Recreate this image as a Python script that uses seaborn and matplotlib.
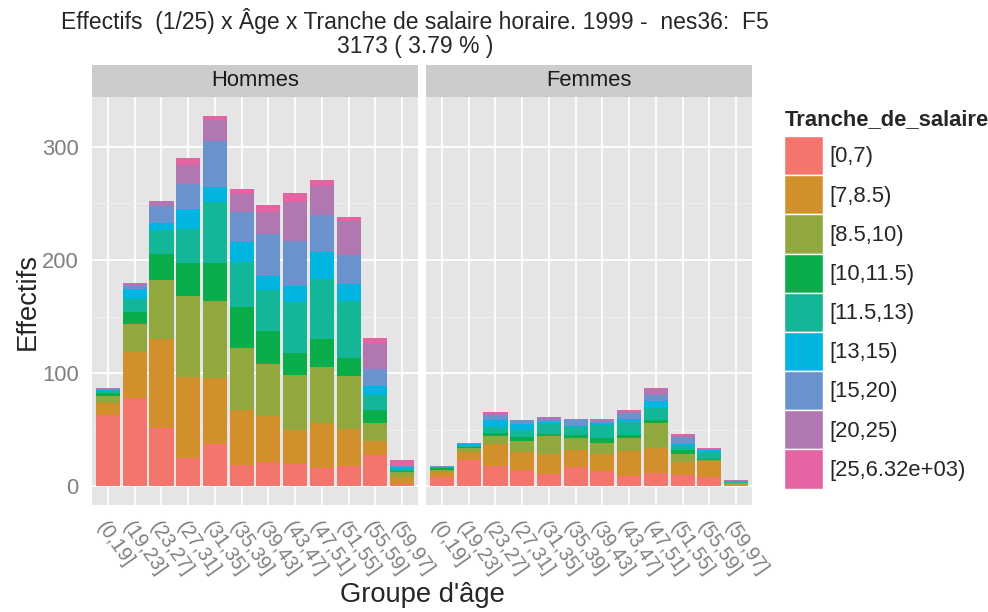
import pandas as pd
import matplotlib
matplotlib.use('Agg')
import matplotlib.pyplot as plt
from matplotlib.ticker import FixedLocator
from matplotlib.patches import Patch
import seaborn as sns

age_groups = ['(0,19]', '(19,23]', '(23,27]', '(27,31]', '(31,35]', '(35,39]',
              '(39,43]', '(43,47]', '(47,51]', '(51,55]', '(55,59]', '(59,97]']
tranches = ['[0,7)', '[7,8.5)', '[8.5,10)', '[10,11.5)', '[11.5,13)',
            '[13,15)', '[15,20)', '[20,25)', '[25,6.32e+03)']
tranche_colors = ['#F3756C', '#D1902C', '#91A83E', '#09AE4A', '#14B698',
                  '#00B5E0', '#6A92CC', '#B077B1', '#E464A3']
panels = ['Hommes', 'Femmes']

# one row per age group, one value per salary band
hommes = [
    [63.4, 10.3, 6.3, 2.6, 1.4, 0.7, 1.7, 0.4, 0.2],
    [78.0, 40.8, 24.2, 10.8, 11.5, 8.6, 3.8, 0.9, 0.7],
    [51.9, 78.1, 52.1, 22.7, 21.2, 6.2, 15.4, 4.4, 0.4],
    [25.0, 71.7, 71.3, 29.2, 29.7, 17.7, 22.7, 16.2, 6.8],
    [37.4, 58.4, 68.1, 33.3, 53.9, 13.3, 40.6, 18.6, 3.8],
    [18.6, 49.2, 54.2, 36.3, 39.7, 18.0, 26.0, 16.5, 3.8],
    [21.5, 41.0, 45.4, 29.1, 36.3, 12.7, 36.5, 20.1, 5.6],
    [19.7, 29.8, 48.9, 19.5, 45.1, 14.1, 39.5, 34.8, 8.0],
    [15.9, 39.8, 50.1, 24.2, 53.0, 24.2, 32.1, 25.7, 5.3],
    [17.7, 32.7, 47.1, 16.3, 49.8, 15.3, 25.1, 30.3, 3.8],
    [27.7, 12.1, 15.9, 12.1, 12.9, 8.0, 15.3, 22.7, 4.2],
    [1.8, 6.2, 4.7, 0.9, 2.0, 1.2, 0.9, 0.9, 4.7],
]
femmes = [
    [8.3, 4.4, 2.0, 1.5, 0.5, 0.7, 0.2, 0.0, 0.0],
    [23.6, 6.8, 3.8, 0.9, 0.6, 1.5, 0.9, 0.2, 0.1],
    [17.7, 19.7, 7.1, 2.9, 5.4, 6.1, 3.9, 2.3, 0.9],
    [14.7, 15.9, 9.5, 3.5, 6.5, 4.7, 3.6, 0.2, 0.1],
    [11.2, 17.4, 15.9, 2.1, 8.8, 1.5, 2.3, 2.1, 0.3],
    [16.8, 15.0, 10.9, 3.0, 6.8, 1.2, 5.5, 0.4, 0.2],
    [13.6, 15.0, 9.4, 4.4, 11.5, 2.4, 1.2, 1.7, 0.3],
    [9.4, 22.1, 10.9, 3.0, 11.2, 2.6, 5.0, 2.7, 0.9],
    [12.1, 22.1, 21.5, 2.7, 11.1, 5.7, 5.3, 5.3, 0.8],
    [10.3, 11.2, 7.4, 2.9, 3.6, 2.3, 5.0, 3.0, 0.9],
    [8.3, 13.8, 1.5, 0.9, 5.9, 1.4, 0.9, 0.6, 0.3],
    [0.9, 1.5, 0.6, 0.3, 0.5, 0.3, 0.6, 0.6, 0.3],
]

rows = []
for sexe, table in zip(panels, [hommes, femmes]):
    for age, vals in zip(age_groups, table):
        for tr, v in zip(tranches, vals):
            rows.append((sexe, age, tr, v))
df = pd.DataFrame(rows, columns=['sexe', 'age', 'tranche', 'effectif'])
df['cumul'] = df.groupby(['sexe', 'age'])['effectif'].cumsum()

sns.set_style('darkgrid', {'axes.facecolor': '#E5E5E5', 'grid.color': 'white'})
plt.rcParams['font.family'] = ['Liberation Sans', 'DejaVu Sans']

fig = plt.figure(figsize=(9.88, 6.12), dpi=100)
W, H = 988, 612
fs = 15.8
grey = '#7F7F7F'

panel_x = [92, 426]
panel_w = 326
axes = []
for i, sexe in enumerate(panels):
    ax = fig.add_axes([panel_x[i] / W, (H - 505) / H, panel_w / W, 408 / H])
    sub = df[df['sexe'] == sexe]
    # draw cumulative totals from the top band down so lower bands sit in front
    for tr, col in reversed(list(zip(tranches, tranche_colors))):
        sns.barplot(data=sub[sub['tranche'] == tr], x='age', y='cumul',
                    order=age_groups, color=col, saturation=1, width=0.9,
                    errorbar=None, linewidth=0, ax=ax)
    ax.set_xlim(-0.6, 11.6)
    ax.set_ylim(-16.4, 343.8)
    ax.set_xlabel('')
    ax.set_ylabel('')
    ax.set_yticks([0, 100, 200, 300])
    ax.yaxis.set_minor_locator(FixedLocator([50, 150, 250]))
    ax.set_axisbelow(True)
    ax.grid(True, which='major', axis='both', color='white', linewidth=1.3)
    ax.grid(True, which='minor', axis='y', color='#F2F2F2', linewidth=0.6)
    for s in ax.spines.values():
        s.set_visible(False)
    ax.tick_params(axis='both', which='major', length=6.5, width=1, color=grey,
                   labelcolor=grey, labelsize=fs, pad=3)
    ax.tick_params(axis='x', which='major', labelsize=14.1, pad=3)
    ax.tick_params(axis='y', which='minor', length=0)
    for lab in ax.get_xticklabels():
        lab.set_rotation(-55)
        lab.set_ha('left')
        lab.set_va('top')
        lab.set_rotation_mode('anchor')
    if i > 0:
        ax.tick_params(axis='y', left=False, labelleft=False)

    # facet strip
    sax = fig.add_axes([panel_x[i] / W, (H - 97) / H, panel_w / W, 32 / H])
    sax.set_facecolor('#CCCCCC')
    sax.set_xticks([])
    sax.set_yticks([])
    sax.grid(False)
    for s in sax.spines.values():
        s.set_visible(False)
    sax.text(0.5, 0.5, sexe, ha='center', va='center', fontsize=fs,
             color='#1A1A1A', transform=sax.transAxes)
    axes.append(ax)

fig.text(415 / W, 1 - 21 / H,
         'Effectifs  (1/25) x Âge x Tranche de salaire horaire. 1999 -  nes36:  F5',
         ha='center', va='center', fontsize=16.5)
fig.text(415 / W, 1 - 47 / H, '3173 ( 3.79 % )', ha='center', va='center', fontsize=16.5)
fig.text(28 / W, 1 - 301 / H, 'Effectifs', rotation=90, ha='center', va='center',
         fontsize=19.7)
fig.text(422 / W, 1 - 595 / H, "Groupe d'âge", ha='center', va='center', fontsize=19.7)

# legend title drawn separately to get the gap above the keys
fig.text(785 / W, 1 - 120 / H, 'Tranche_de_salaire', ha='left', va='center',
         fontsize=fs, fontweight='bold')
handles = [Patch(facecolor=c, edgecolor='white', linewidth=1) for c in tranche_colors]
fig.legend(handles, tranches, loc='upper left', bbox_to_anchor=(784 / W, 1 - 136 / H),
           frameon=False, fontsize=fs,
           handlelength=1.77, handleheight=2.37, labelspacing=0,
           handletextpad=0.3, borderpad=0, borderaxespad=0)

fig.savefig('out.png', dpi=100)
